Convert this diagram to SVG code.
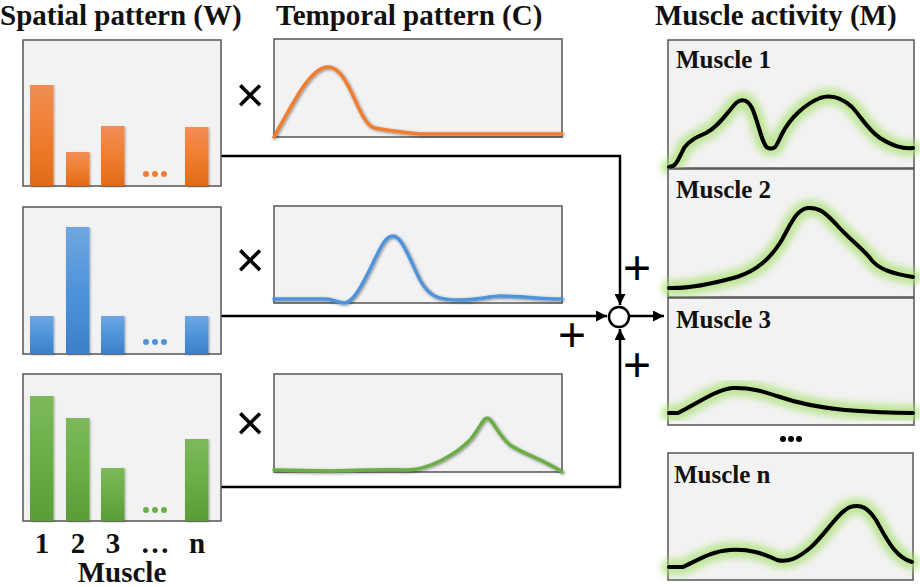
<svg xmlns="http://www.w3.org/2000/svg" width="920" height="587" viewBox="0 0 920 587">
<style>
.title{font-family:"Liberation Serif","Times New Roman",serif;font-weight:bold;font-size:29px;fill:#111}
.mlabel{font-family:"Liberation Serif","Times New Roman",serif;font-weight:bold;font-size:25px;fill:#111}
.axis{font-family:"Liberation Serif","Times New Roman",serif;font-weight:bold;font-size:29px;fill:#111}
.op{font-family:"Liberation Sans",Arial,sans-serif;font-size:48px;fill:#000}
.mul{font-family:"Liberation Sans",Arial,sans-serif;font-size:50px;fill:#000}
.panel{fill:#F2F2F2;stroke:#555;stroke-width:1.5}
.conn{fill:none;stroke:#000;stroke-width:2.5}
.tc{fill:none;stroke-width:3.5;stroke-linecap:round;stroke-linejoin:round;filter:url(#shadow)}
.mc{fill:none;stroke:#000;stroke-width:4;stroke-linejoin:round;stroke-linecap:round}
.glow{fill:none;stroke:#A8E070;stroke-width:16;stroke-linejoin:round;stroke-linecap:round;opacity:0.7;filter:url(#blur)}
</style>
<defs>
<linearGradient id="gO" x1="0" y1="0" x2="0" y2="1"><stop offset="0" stop-color="#F08E55"/><stop offset="0.5" stop-color="#F07E30"/><stop offset="1" stop-color="#E06A18"/></linearGradient>
<linearGradient id="gB" x1="0" y1="0" x2="0" y2="1"><stop offset="0" stop-color="#6FA7E0"/><stop offset="0.5" stop-color="#4E94DB"/><stop offset="1" stop-color="#3B80C8"/></linearGradient>
<linearGradient id="gG" x1="0" y1="0" x2="0" y2="1"><stop offset="0" stop-color="#7DB95C"/><stop offset="0.5" stop-color="#6AAE45"/><stop offset="1" stop-color="#5A9C35"/></linearGradient>
<filter id="shadow" x="-10%" y="-20%" width="120%" height="140%"><feDropShadow dx="1" dy="1" stdDeviation="1.5" flood-color="#000" flood-opacity="0.45"/></filter>
<filter id="bshadow" x="-20%" y="-10%" width="140%" height="120%"><feDropShadow dx="1" dy="1" stdDeviation="1" flood-color="#000" flood-opacity="0.3"/></filter>
<filter id="blur" x="-10%" y="-30%" width="120%" height="160%"><feGaussianBlur stdDeviation="3.5"/></filter>
<marker id="arr" viewBox="0 0 10 10" refX="10" refY="5" markerWidth="4.6" markerHeight="4.4" orient="auto" markerUnits="strokeWidth"><path d="M0,0 L10,5 L0,10 z" fill="#000"/></marker>
</defs>

<text class="title" x="0" y="25">Spatial pattern (W)</text>
<text class="title" x="276" y="25">Temporal pattern (C)</text>
<text class="title" x="655" y="25">Muscle activity (M)</text>

<g id="connectors">
<polyline class="conn" points="221,156 620,156 620,305" marker-end="url(#arr)"/>
<line class="conn" x1="221" y1="316" x2="607" y2="316" marker-end="url(#arr)"/>
<polyline class="conn" points="221,487 620,487 620,329" marker-end="url(#arr)"/>
<line class="conn" x1="630" y1="316" x2="664" y2="316" marker-end="url(#arr)"/>
</g>

<g id="sum">
<circle cx="619" cy="317" r="10" fill="#fff" stroke="#000" stroke-width="2.5"/>
<text class="op" x="637" y="284" text-anchor="middle">+</text>
<text class="op" x="572" y="351" text-anchor="middle">+</text>
<text class="op" x="637" y="381" text-anchor="middle">+</text>
</g>

<g id="spatial1">
<rect class="panel" x="23" y="40" width="198" height="146"/>
<g fill="url(#gO)" filter="url(#bshadow)">
<rect x="30" y="85" width="23.5" height="101"/>
<rect x="66" y="152" width="23.5" height="34"/>
<rect x="101" y="126" width="23.5" height="60"/>
<rect x="185" y="127" width="23.5" height="59"/>
</g>
<g fill="#F07E30"><circle cx="146" cy="174" r="3"/><circle cx="155" cy="174" r="3"/><circle cx="164" cy="174" r="3"/></g>
</g>

<g id="spatial2">
<rect class="panel" x="23" y="207" width="198" height="147"/>
<g fill="url(#gB)" filter="url(#bshadow)">
<rect x="30" y="316" width="23.5" height="38"/>
<rect x="66" y="227" width="23.5" height="127"/>
<rect x="101" y="316" width="23.5" height="38"/>
<rect x="185" y="316" width="23.5" height="38"/>
</g>
<g fill="#4E94DB"><circle cx="146" cy="342" r="3"/><circle cx="155" cy="342" r="3"/><circle cx="164" cy="342" r="3"/></g>
</g>

<g id="spatial3">
<rect class="panel" x="23" y="374" width="198" height="147"/>
<g fill="url(#gG)" filter="url(#bshadow)">
<rect x="30" y="396" width="23.5" height="125"/>
<rect x="66" y="418" width="23.5" height="103"/>
<rect x="101" y="468" width="23.5" height="53"/>
<rect x="185" y="439" width="23.5" height="82"/>
</g>
<g fill="#6AAE45"><circle cx="146" cy="510" r="3"/><circle cx="155" cy="510" r="3"/><circle cx="164" cy="510" r="3"/></g>
</g>

<g id="axis-labels">
<text class="axis" x="42" y="553" text-anchor="middle">1</text>
<text class="axis" x="78" y="553" text-anchor="middle">2</text>
<text class="axis" x="113" y="553" text-anchor="middle">3</text>
<text class="axis" x="155" y="553" text-anchor="middle">…</text>
<text class="axis" x="197" y="553" text-anchor="middle">n</text>
<text class="axis" x="122" y="582" text-anchor="middle">Muscle</text>
</g>

<g id="times">
<text class="mul" x="250" y="112" text-anchor="middle">×</text>
<text class="mul" x="250" y="277" text-anchor="middle">×</text>
<text class="mul" x="250" y="440" text-anchor="middle">×</text>
</g>

<g id="temporal1">
<rect class="panel" x="274" y="39" width="288" height="98"/>
<path class="tc" stroke="#F07E30" d="M274,137 C292,105 310,67 328,67 C350,67 358,125 375,128 C390,131 400,132 420,134 L562,134"/>
</g>
<g id="temporal2">
<rect class="panel" x="274" y="206" width="288" height="97"/>
<path class="tc" stroke="#4E94DB" d="M274,299 L325,299 C333,299 338,303 344,303 C352,303 360,290 372,265 C382,244 386,236 393,236 C402,236 410,260 420,280 C430,298 440,300 460,300 C480,300 490,296 500,296 C520,296 540,299 562,299"/>
</g>
<g id="temporal3">
<rect class="panel" x="274" y="374" width="288" height="98"/>
<path class="tc" stroke="#6AAE45" d="M274,470 L330,471 C360,470 390,469 408,470 C430,469 455,455 470,440 C480,428 483,418 487,418 C492,418 498,435 510,445 C525,455 545,460 562,472"/>
</g>

<g id="muscle1">
<rect class="panel" x="668" y="40" width="246" height="128"/>
<path class="glow" d="M669,167 C676,167 678,160 684,148 C690,140 697,137 706,133 C718,127 727,113 736,103 C742,98 748,100 752,108 C758,120 762,146 768,148 C776,150 776,146 782,134 C790,118 805,104 820,98 C832,94 842,98 852,107 C862,118 868,130 880,138 C893,146 902,149 913,148"/>
<path class="mc" d="M669,167 C676,167 678,160 684,148 C690,140 697,137 706,133 C718,127 727,113 736,103 C742,98 748,100 752,108 C758,120 762,146 768,148 C776,150 776,146 782,134 C790,118 805,104 820,98 C832,94 842,98 852,107 C862,118 868,130 880,138 C893,146 902,149 913,148"/>
<text class="mlabel" x="676" y="68">Muscle 1</text>
</g>
<g id="muscle2">
<rect class="panel" x="668" y="169" width="246" height="128"/>
<path class="glow" d="M669,288 C690,289 715,283 737,277 C758,270 770,258 780,243 C790,226 796,209 808,208 C820,207 826,214 836,224 C848,238 862,248 870,258 C878,270 895,274 913,277"/>
<path class="mc" d="M669,288 C690,289 715,283 737,277 C758,270 770,258 780,243 C790,226 796,209 808,208 C820,207 826,214 836,224 C848,238 862,248 870,258 C878,270 895,274 913,277"/>
<text class="mlabel" x="676" y="198">Muscle 2</text>
</g>
<g id="muscle3">
<rect class="panel" x="668" y="298" width="246" height="127"/>
<path class="glow" d="M669,413 L678,413 C695,405 715,390 732,388 C750,387 765,392 780,397 C800,404 825,408 845,410 C870,412 890,413 913,413"/>
<path class="mc" d="M669,413 L678,413 C695,405 715,390 732,388 C750,387 765,392 780,397 C800,404 825,408 845,410 C870,412 890,413 913,413"/>
<text class="mlabel" x="676" y="328">Muscle 3</text>
</g>
<g id="muscle-dots" fill="#000">
<circle cx="783" cy="439" r="3"/><circle cx="791" cy="439" r="3"/><circle cx="799" cy="439" r="3"/>
</g>
<g id="muscleN">
<rect class="panel" x="668" y="453" width="245" height="127"/>
<path class="glow" d="M669,567 L683,567 C698,560 712,551 730,550 C750,549 762,553 777,560 C788,563 798,558 810,548 C825,535 838,512 850,507 C862,504 868,508 876,520 C886,538 895,557 912,562"/>
<path class="mc" d="M669,567 L683,567 C698,560 712,551 730,550 C750,549 762,553 777,560 C788,563 798,558 810,548 C825,535 838,512 850,507 C862,504 868,508 876,520 C886,538 895,557 912,562"/>
<text class="mlabel" x="674" y="483">Muscle n</text>
</g>
</svg>
